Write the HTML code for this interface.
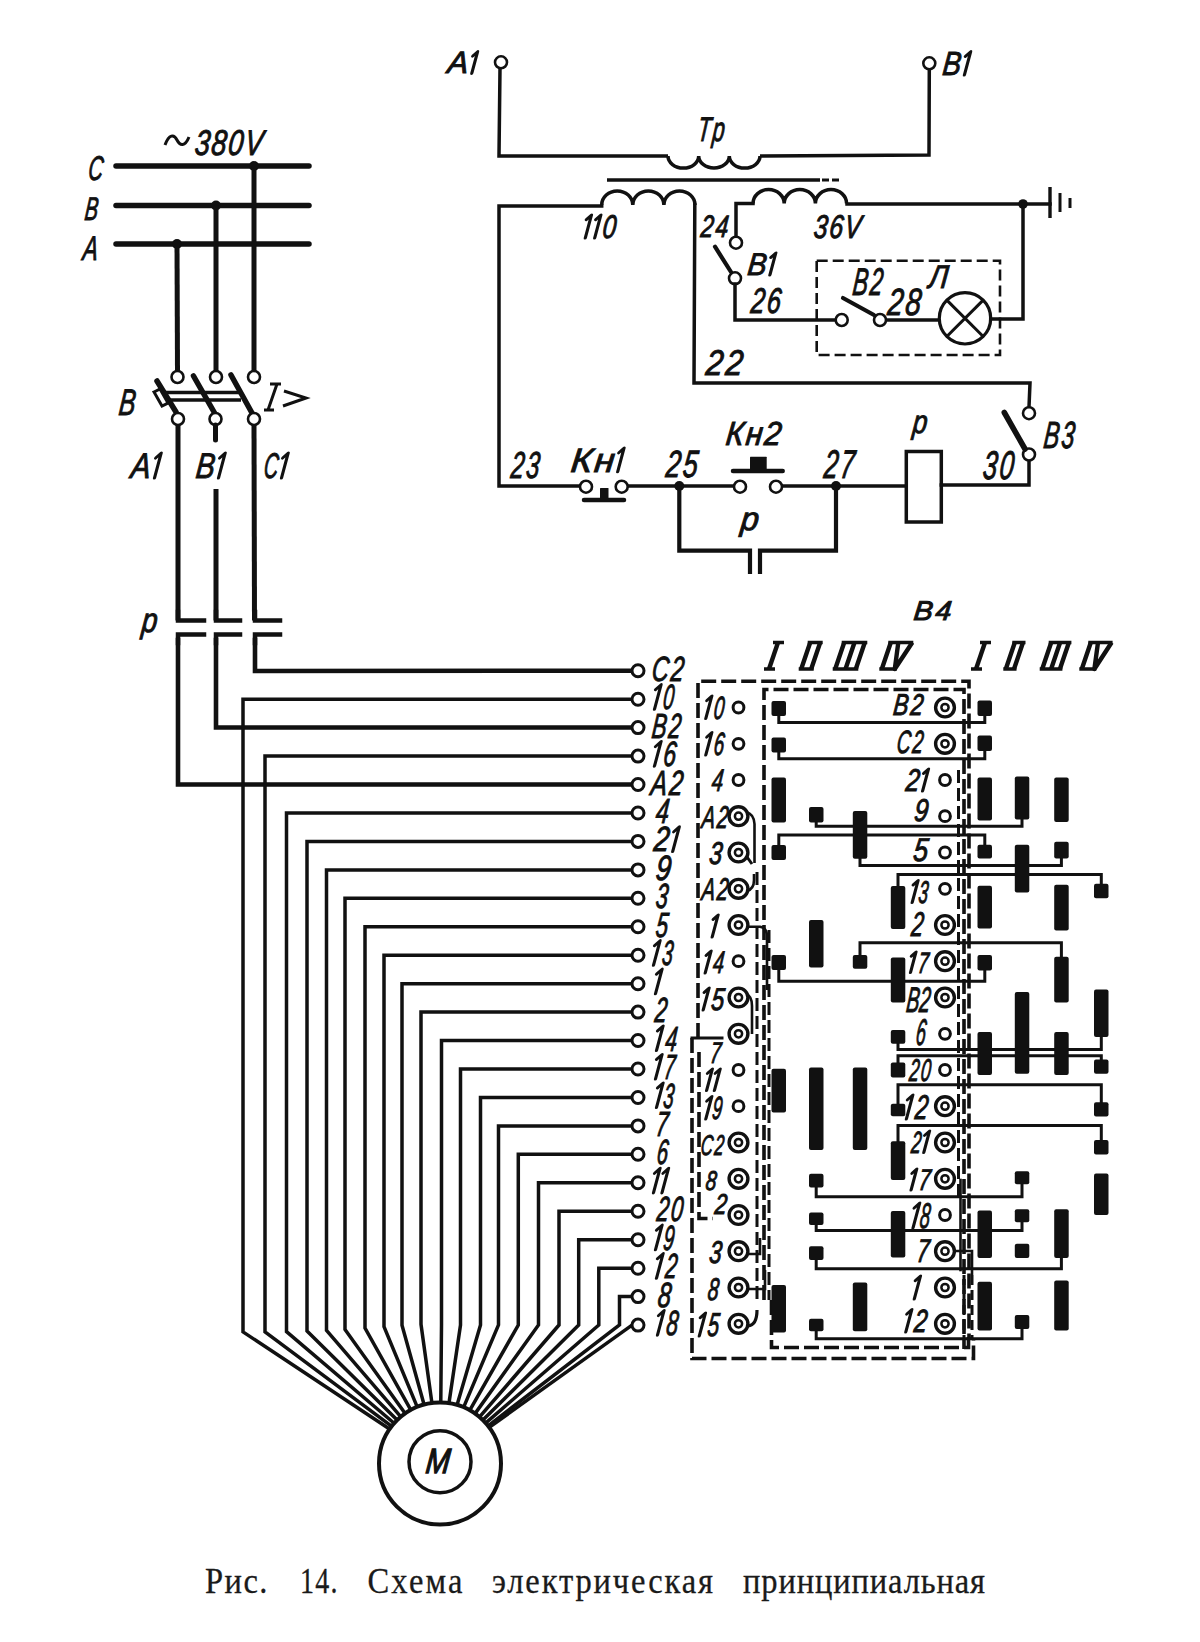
<!DOCTYPE html>
<html><head><meta charset="utf-8"><style>
html,body{margin:0;padding:0;background:#fff;}
body{width:1200px;height:1642px;overflow:hidden;}
svg{display:block;}
.t{font-family:"Liberation Sans",sans-serif;font-style:italic;fill:#111;stroke:#111;}
.cap{font-family:"Liberation Serif",serif;fill:#1a1a1a;stroke:#1a1a1a;stroke-width:0.3;}
</style></head><body>
<svg width="1200" height="1642" viewBox="0 0 1200 1642">
<line x1="116.0" y1="166.0" x2="309.0" y2="166.0" stroke="#111" stroke-width="5.5" stroke-linecap="round" />
<line x1="116.0" y1="205.5" x2="309.0" y2="205.5" stroke="#111" stroke-width="5.5" stroke-linecap="round" />
<line x1="116.0" y1="244.0" x2="309.0" y2="244.0" stroke="#111" stroke-width="5.5" stroke-linecap="round" />
<circle cx="254.0" cy="166.0" r="5.0" fill="#111"/>
<circle cx="216.0" cy="205.5" r="5.0" fill="#111"/>
<circle cx="177.0" cy="244.0" r="5.0" fill="#111"/>
<line x1="177.0" y1="244.0" x2="177.5" y2="371.0" stroke="#111" stroke-width="5" stroke-linecap="butt" />
<line x1="216.0" y1="205.5" x2="216.0" y2="371.0" stroke="#111" stroke-width="5" stroke-linecap="butt" />
<line x1="254.0" y1="166.0" x2="254.0" y2="371.0" stroke="#111" stroke-width="5" stroke-linecap="butt" />
<circle cx="177.5" cy="377.0" r="6.0" fill="#fff" stroke="#111" stroke-width="2.6"/>
<circle cx="216.0" cy="377.0" r="6.0" fill="#fff" stroke="#111" stroke-width="2.6"/>
<circle cx="254.0" cy="377.0" r="6.0" fill="#fff" stroke="#111" stroke-width="2.6"/>
<line x1="157.0" y1="381.0" x2="176.0" y2="412.0" stroke="#111" stroke-width="5.5" stroke-linecap="round" />
<line x1="193.5" y1="376.0" x2="214.6" y2="413.0" stroke="#111" stroke-width="5.5" stroke-linecap="round" />
<line x1="231.0" y1="375.0" x2="252.0" y2="413.0" stroke="#111" stroke-width="5.5" stroke-linecap="round" />
<line x1="162.0" y1="392.5" x2="241.0" y2="392.5" stroke="#111" stroke-width="3.3" stroke-linecap="butt" />
<line x1="162.0" y1="400.0" x2="241.0" y2="400.0" stroke="#111" stroke-width="3.3" stroke-linecap="butt" />
<path d="M154 392 L160 389 L168 403 L162 406 Z" fill="#fff" stroke="#111" stroke-width="3"/>
<circle cx="178.0" cy="419.0" r="6.0" fill="#fff" stroke="#111" stroke-width="2.6"/>
<circle cx="215.5" cy="419.0" r="6.0" fill="#fff" stroke="#111" stroke-width="2.6"/>
<circle cx="254.0" cy="419.0" r="6.0" fill="#fff" stroke="#111" stroke-width="2.6"/>
<line x1="178.0" y1="425.0" x2="178.0" y2="620.5" stroke="#111" stroke-width="5" stroke-linecap="butt" />
<line x1="215.5" y1="425.0" x2="215.5" y2="440.0" stroke="#111" stroke-width="5" stroke-linecap="round" />
<line x1="216.0" y1="489.0" x2="216.0" y2="620.5" stroke="#111" stroke-width="5" stroke-linecap="butt" />
<line x1="254.0" y1="425.0" x2="254.5" y2="620.5" stroke="#111" stroke-width="5" stroke-linecap="butt" />
<path d="M178.0 612.0 L178.0 620.5 L204.0 620.5" fill="none" stroke="#111" stroke-width="4.5" stroke-linejoin="miter" stroke-linecap="square" />
<path d="M204.0 634.5 L178.0 634.5 L178.0 643.0" fill="none" stroke="#111" stroke-width="4.5" stroke-linejoin="miter" stroke-linecap="square" />
<path d="M216.0 612.0 L216.0 620.5 L240.0 620.5" fill="none" stroke="#111" stroke-width="4.5" stroke-linejoin="miter" stroke-linecap="square" />
<path d="M240.0 634.5 L216.0 634.5 L216.0 643.0" fill="none" stroke="#111" stroke-width="4.5" stroke-linejoin="miter" stroke-linecap="square" />
<path d="M255.0 612.0 L255.0 620.5 L280.0 620.5" fill="none" stroke="#111" stroke-width="4.5" stroke-linejoin="miter" stroke-linecap="square" />
<path d="M280.0 634.5 L255.0 634.5 L255.0 643.0" fill="none" stroke="#111" stroke-width="4.5" stroke-linejoin="miter" stroke-linecap="square" />
<path d="M178.0 640.0 L178.0 784.5 L632.0 784.5" fill="none" stroke="#111" stroke-width="4.6" stroke-linejoin="miter" stroke-linecap="square" />
<path d="M216.0 640.0 L216.0 727.5 L632.0 727.5" fill="none" stroke="#111" stroke-width="4.6" stroke-linejoin="miter" stroke-linecap="square" />
<path d="M255.0 640.0 L255.0 671.0 L632.0 670.7" fill="none" stroke="#111" stroke-width="4.6" stroke-linejoin="miter" stroke-linecap="square" />
<path d="M165 145 C169 134 174 134 177 140 C180 146 185 147 189 137" fill="none" stroke="#111" stroke-width="3"/>
<text x="0" y="0" transform="translate(194.0,155.0) skewX(-6) scale(0.758,1)" font-size="35.7" class="t" stroke-width="1.0">3</text>
<text x="0" y="0" transform="translate(210.6,155.0) skewX(-6) scale(0.758,1)" font-size="35.7" class="t" stroke-width="1.0">8</text>
<text x="0" y="0" transform="translate(227.3,155.0) skewX(-6) scale(0.758,1)" font-size="35.7" class="t" stroke-width="1.0">0</text>
<text x="0" y="0" transform="translate(243.9,155.0) skewX(-6) scale(0.758,1)" font-size="35.7" class="t" stroke-width="1.0">V</text>
<text x="0" y="0" transform="translate(87.5,180.0) skewX(-6)" font-size="34.3" textLength="14.6" lengthAdjust="spacingAndGlyphs" class="t" stroke-width="1.0">С</text>
<text x="0" y="0" transform="translate(84.0,220.0) skewX(-6)" font-size="32.9" textLength="13.2" lengthAdjust="spacingAndGlyphs" class="t" stroke-width="1.0">В</text>
<text x="0" y="0" transform="translate(82.0,260.0) skewX(-6)" font-size="34.3" textLength="15.1" lengthAdjust="spacingAndGlyphs" class="t" stroke-width="1.0">А</text>
<text x="0" y="0" transform="translate(118.0,415.0) skewX(-6)" font-size="37.1" textLength="16.5" lengthAdjust="spacingAndGlyphs" class="t" stroke-width="1.0">В</text>
<path d="M270 384 L281 384 M264 410 L274 410 M277 384 L268 410 M284 391 L306 398 L283 406" fill="none" stroke="#111" stroke-width="3"/>
<text x="0" y="0" transform="translate(130.0,478.0) skewX(-6) scale(0.832,1)" font-size="35.7" class="t" stroke-width="1.0">А</text>
<path transform="translate(154.5,478.0) skewX(-15)" d="M0 0 L0 -25.0 L-4.2 -20.0" fill="none" stroke="#111" stroke-width="3.2" stroke-linecap="round" stroke-linejoin="round"/>
<text x="0" y="0" transform="translate(195.0,478.0) skewX(-6) scale(0.793,1)" font-size="35.7" class="t" stroke-width="1.0">В</text>
<path transform="translate(218.5,478.0) skewX(-15)" d="M0 0 L0 -25.0 L-4.2 -20.0" fill="none" stroke="#111" stroke-width="3.2" stroke-linecap="round" stroke-linejoin="round"/>
<text x="0" y="0" transform="translate(263.0,478.0) skewX(-6) scale(0.552,1)" font-size="35.7" class="t" stroke-width="1.0">С</text>
<path transform="translate(281.5,478.0) skewX(-15)" d="M0 0 L0 -25.0 L-4.2 -20.0" fill="none" stroke="#111" stroke-width="3.2" stroke-linecap="round" stroke-linejoin="round"/>
<text x="0" y="0" transform="translate(141.0,632.0) skewX(-6)" font-size="34.6" textLength="15.5" lengthAdjust="spacingAndGlyphs" class="t" stroke-width="1.0">р</text>
<path d="M632.0 699.2 L243.0 699.2 L243.0 1331.9 L387.7 1427.7" fill="none" stroke="#111" stroke-width="3.5" stroke-linejoin="miter" stroke-linecap="square" />
<path d="M632.0 756.1 L265.0 756.1 L265.0 1331.8 L389.7 1424.8" fill="none" stroke="#111" stroke-width="3.5" stroke-linejoin="miter" stroke-linecap="square" />
<path d="M632.0 813.0 L286.5 813.0 L286.5 1331.6 L392.2 1421.6" fill="none" stroke="#111" stroke-width="3.5" stroke-linejoin="miter" stroke-linecap="square" />
<path d="M632.0 841.4 L307.0 841.4 L307.0 1331.1 L395.4 1418.3" fill="none" stroke="#111" stroke-width="3.5" stroke-linejoin="miter" stroke-linecap="square" />
<path d="M632.0 869.9 L326.5 869.9 L326.5 1330.4 L399.1 1414.7" fill="none" stroke="#111" stroke-width="3.5" stroke-linejoin="miter" stroke-linecap="square" />
<path d="M632.0 898.3 L345.0 898.3 L345.0 1329.4 L403.6 1411.3" fill="none" stroke="#111" stroke-width="3.5" stroke-linejoin="miter" stroke-linecap="square" />
<path d="M632.0 926.8 L365.0 926.8 L365.0 1328.0 L409.5 1407.5" fill="none" stroke="#111" stroke-width="3.5" stroke-linejoin="miter" stroke-linecap="square" />
<path d="M632.0 955.2 L384.0 955.2 L384.0 1326.6 L416.1 1404.3" fill="none" stroke="#111" stroke-width="3.5" stroke-linejoin="miter" stroke-linecap="square" />
<path d="M632.0 983.7 L402.0 983.7 L402.0 1325.3 L423.3 1401.8" fill="none" stroke="#111" stroke-width="3.5" stroke-linejoin="miter" stroke-linecap="square" />
<path d="M632.0 1012.1 L421.0 1012.1 L421.0 1324.3 L431.5 1400.1" fill="none" stroke="#111" stroke-width="3.5" stroke-linejoin="miter" stroke-linecap="square" />
<path d="M632.0 1040.5 L441.5 1040.5 L441.5 1325.0 L440.8 1399.5" fill="none" stroke="#111" stroke-width="3.5" stroke-linejoin="miter" stroke-linecap="square" />
<path d="M632.0 1069.0 L460.5 1069.0 L460.5 1325.0 L449.4 1400.2" fill="none" stroke="#111" stroke-width="3.5" stroke-linejoin="miter" stroke-linecap="square" />
<path d="M632.0 1097.5 L480.5 1097.5 L480.5 1325.0 L457.9 1402.0" fill="none" stroke="#111" stroke-width="3.5" stroke-linejoin="miter" stroke-linecap="square" />
<path d="M632.0 1125.9 L498.5 1125.9 L498.5 1325.0 L464.8 1404.5" fill="none" stroke="#111" stroke-width="3.5" stroke-linejoin="miter" stroke-linecap="square" />
<path d="M632.0 1154.3 L518.3 1154.3 L518.3 1325.0 L471.3 1407.7" fill="none" stroke="#111" stroke-width="3.5" stroke-linejoin="miter" stroke-linecap="square" />
<path d="M632.0 1182.8 L538.5 1182.8 L538.5 1325.0 L476.8 1411.2" fill="none" stroke="#111" stroke-width="3.5" stroke-linejoin="miter" stroke-linecap="square" />
<path d="M632.0 1211.2 L559.0 1211.2 L559.0 1325.0 L481.4 1414.8" fill="none" stroke="#111" stroke-width="3.5" stroke-linejoin="miter" stroke-linecap="square" />
<path d="M632.0 1239.7 L578.7 1239.7 L578.7 1325.0 L484.9 1418.1" fill="none" stroke="#111" stroke-width="3.5" stroke-linejoin="miter" stroke-linecap="square" />
<path d="M632.0 1268.2 L598.8 1268.2 L598.8 1325.0 L487.8 1421.2" fill="none" stroke="#111" stroke-width="3.5" stroke-linejoin="miter" stroke-linecap="square" />
<path d="M632.0 1296.6 L619.5 1296.6 L619.5 1325.0 L490.2 1424.2" fill="none" stroke="#111" stroke-width="3.5" stroke-linejoin="miter" stroke-linecap="square" />
<path d="M632.0 1325.1 L491.4 1425.8" fill="none" stroke="#111" stroke-width="3.5" stroke-linejoin="miter" stroke-linecap="square" />
<circle cx="638.0" cy="670.7" r="6.0" fill="#fff" stroke="#111" stroke-width="3.0"/>
<text x="0" y="0" transform="translate(651.0,680.7) skewX(-6) scale(0.666,1)" font-size="35.0" class="t" stroke-width="1.0">С</text>
<text x="0" y="0" transform="translate(670.1,680.7) skewX(-6) scale(0.666,1)" font-size="35.0" class="t" stroke-width="1.0">2</text>
<circle cx="638.0" cy="699.2" r="6.0" fill="#fff" stroke="#111" stroke-width="3.0"/>
<path transform="translate(654.5,709.2) skewX(-15)" d="M0 0 L0 -24.5 L-4.2 -19.6" fill="none" stroke="#111" stroke-width="3.2" stroke-linecap="round" stroke-linejoin="round"/>
<text x="0" y="0" transform="translate(662.3,709.2) skewX(-6) scale(0.553,1)" font-size="35.0" class="t" stroke-width="1.0">0</text>
<circle cx="638.0" cy="727.6" r="6.0" fill="#fff" stroke="#111" stroke-width="3.0"/>
<text x="0" y="0" transform="translate(651.0,737.6) skewX(-6) scale(0.631,1)" font-size="35.0" class="t" stroke-width="1.0">В</text>
<text x="0" y="0" transform="translate(667.8,737.6) skewX(-6) scale(0.631,1)" font-size="35.0" class="t" stroke-width="1.0">2</text>
<circle cx="638.0" cy="756.1" r="6.0" fill="#fff" stroke="#111" stroke-width="3.0"/>
<path transform="translate(654.5,766.1) skewX(-15)" d="M0 0 L0 -24.5 L-4.2 -19.6" fill="none" stroke="#111" stroke-width="3.2" stroke-linecap="round" stroke-linejoin="round"/>
<text x="0" y="0" transform="translate(662.4,766.1) skewX(-6) scale(0.649,1)" font-size="35.0" class="t" stroke-width="1.0">6</text>
<circle cx="638.0" cy="784.5" r="6.0" fill="#fff" stroke="#111" stroke-width="3.0"/>
<text x="0" y="0" transform="translate(650.0,794.5) skewX(-6) scale(0.696,1)" font-size="35.0" class="t" stroke-width="1.0">А</text>
<text x="0" y="0" transform="translate(668.5,794.5) skewX(-6) scale(0.696,1)" font-size="35.0" class="t" stroke-width="1.0">2</text>
<circle cx="638.0" cy="813.0" r="6.0" fill="#fff" stroke="#111" stroke-width="3.0"/>
<text x="0" y="0" transform="translate(655.0,823.0) skewX(-6)" font-size="35.0" textLength="13.1" lengthAdjust="spacingAndGlyphs" class="t" stroke-width="1.0">4</text>
<circle cx="638.0" cy="841.4" r="6.0" fill="#fff" stroke="#111" stroke-width="3.0"/>
<text x="0" y="0" transform="translate(653.0,851.4) skewX(-6) scale(0.792,1)" font-size="35.0" class="t" stroke-width="1.0">2</text>
<path transform="translate(672.7,851.4) skewX(-15)" d="M0 0 L0 -24.5 L-4.2 -19.6" fill="none" stroke="#111" stroke-width="3.2" stroke-linecap="round" stroke-linejoin="round"/>
<circle cx="638.0" cy="869.9" r="6.0" fill="#fff" stroke="#111" stroke-width="3.0"/>
<text x="0" y="0" transform="translate(655.0,879.9) skewX(-6)" font-size="35.0" textLength="15.1" lengthAdjust="spacingAndGlyphs" class="t" stroke-width="1.0">9</text>
<circle cx="638.0" cy="898.3" r="6.0" fill="#fff" stroke="#111" stroke-width="3.0"/>
<text x="0" y="0" transform="translate(655.0,908.3) skewX(-6)" font-size="35.0" textLength="12.1" lengthAdjust="spacingAndGlyphs" class="t" stroke-width="1.0">3</text>
<circle cx="638.0" cy="926.8" r="6.0" fill="#fff" stroke="#111" stroke-width="3.0"/>
<text x="0" y="0" transform="translate(655.0,936.8) skewX(-6)" font-size="35.0" textLength="12.1" lengthAdjust="spacingAndGlyphs" class="t" stroke-width="1.0">5</text>
<circle cx="638.0" cy="955.2" r="6.0" fill="#fff" stroke="#111" stroke-width="3.0"/>
<path transform="translate(653.5,965.2) skewX(-15)" d="M0 0 L0 -24.5 L-4.2 -19.6" fill="none" stroke="#111" stroke-width="3.2" stroke-linecap="round" stroke-linejoin="round"/>
<text x="0" y="0" transform="translate(661.3,965.2) skewX(-6) scale(0.553,1)" font-size="35.0" class="t" stroke-width="1.0">3</text>
<circle cx="638.0" cy="983.7" r="6.0" fill="#fff" stroke="#111" stroke-width="3.0"/>
<path transform="translate(655.5,993.7) skewX(-15)" d="M0 0 L0 -24.5 L-4.2 -19.6" fill="none" stroke="#111" stroke-width="3.2" stroke-linecap="round" stroke-linejoin="round"/>
<circle cx="638.0" cy="1012.1" r="6.0" fill="#fff" stroke="#111" stroke-width="3.0"/>
<text x="0" y="0" transform="translate(654.0,1022.1) skewX(-6)" font-size="35.0" textLength="12.1" lengthAdjust="spacingAndGlyphs" class="t" stroke-width="1.0">2</text>
<circle cx="638.0" cy="1040.5" r="6.0" fill="#fff" stroke="#111" stroke-width="3.0"/>
<path transform="translate(656.5,1050.5) skewX(-15)" d="M0 0 L0 -24.5 L-4.2 -19.6" fill="none" stroke="#111" stroke-width="3.2" stroke-linecap="round" stroke-linejoin="round"/>
<text x="0" y="0" transform="translate(664.4,1050.5) skewX(-6) scale(0.601,1)" font-size="35.0" class="t" stroke-width="1.0">4</text>
<circle cx="638.0" cy="1069.0" r="6.0" fill="#fff" stroke="#111" stroke-width="3.0"/>
<path transform="translate(655.5,1079.0) skewX(-15)" d="M0 0 L0 -24.5 L-4.2 -19.6" fill="none" stroke="#111" stroke-width="3.2" stroke-linecap="round" stroke-linejoin="round"/>
<text x="0" y="0" transform="translate(663.3,1079.0) skewX(-6) scale(0.553,1)" font-size="35.0" class="t" stroke-width="1.0">7</text>
<circle cx="638.0" cy="1097.5" r="6.0" fill="#fff" stroke="#111" stroke-width="3.0"/>
<path transform="translate(656.5,1107.5) skewX(-15)" d="M0 0 L0 -24.5 L-4.2 -19.6" fill="none" stroke="#111" stroke-width="3.2" stroke-linecap="round" stroke-linejoin="round"/>
<text x="0" y="0" transform="translate(662.6,1107.5) skewX(-6) scale(0.537,1)" font-size="35.0" class="t" stroke-width="1.0">3</text>
<circle cx="638.0" cy="1125.9" r="6.0" fill="#fff" stroke="#111" stroke-width="3.0"/>
<text x="0" y="0" transform="translate(655.0,1135.9) skewX(-6)" font-size="35.0" textLength="12.1" lengthAdjust="spacingAndGlyphs" class="t" stroke-width="1.0">7</text>
<circle cx="638.0" cy="1154.3" r="6.0" fill="#fff" stroke="#111" stroke-width="3.0"/>
<text x="0" y="0" transform="translate(656.0,1164.3) skewX(-6)" font-size="35.0" textLength="11.1" lengthAdjust="spacingAndGlyphs" class="t" stroke-width="1.0">6</text>
<circle cx="638.0" cy="1182.8" r="6.0" fill="#fff" stroke="#111" stroke-width="3.0"/>
<path transform="translate(653.5,1192.8) skewX(-15)" d="M0 0 L0 -24.5 L-4.2 -19.6" fill="none" stroke="#111" stroke-width="3.2" stroke-linecap="round" stroke-linejoin="round"/>
<path transform="translate(662.0,1192.8) skewX(-15)" d="M0 0 L0 -24.5 L-4.2 -19.6" fill="none" stroke="#111" stroke-width="3.2" stroke-linecap="round" stroke-linejoin="round"/>
<circle cx="638.0" cy="1211.2" r="6.0" fill="#fff" stroke="#111" stroke-width="3.0"/>
<text x="0" y="0" transform="translate(656.0,1221.2) skewX(-6) scale(0.623,1)" font-size="35.0" class="t" stroke-width="1.0">2</text>
<text x="0" y="0" transform="translate(669.9,1221.2) skewX(-6) scale(0.623,1)" font-size="35.0" class="t" stroke-width="1.0">0</text>
<circle cx="638.0" cy="1239.7" r="6.0" fill="#fff" stroke="#111" stroke-width="3.0"/>
<path transform="translate(655.5,1249.7) skewX(-15)" d="M0 0 L0 -24.5 L-4.2 -19.6" fill="none" stroke="#111" stroke-width="3.2" stroke-linecap="round" stroke-linejoin="round"/>
<text x="0" y="0" transform="translate(662.4,1249.7) skewX(-6) scale(0.550,1)" font-size="35.0" class="t" stroke-width="1.0">9</text>
<circle cx="638.0" cy="1268.2" r="6.0" fill="#fff" stroke="#111" stroke-width="3.0"/>
<path transform="translate(656.5,1278.2) skewX(-15)" d="M0 0 L0 -24.5 L-4.2 -19.6" fill="none" stroke="#111" stroke-width="3.2" stroke-linecap="round" stroke-linejoin="round"/>
<text x="0" y="0" transform="translate(664.4,1278.2) skewX(-6) scale(0.601,1)" font-size="35.0" class="t" stroke-width="1.0">2</text>
<circle cx="638.0" cy="1296.6" r="6.0" fill="#fff" stroke="#111" stroke-width="3.0"/>
<text x="0" y="0" transform="translate(657.0,1306.6) skewX(-6)" font-size="35.0" textLength="13.1" lengthAdjust="spacingAndGlyphs" class="t" stroke-width="1.0">8</text>
<circle cx="638.0" cy="1325.1" r="6.0" fill="#fff" stroke="#111" stroke-width="3.0"/>
<path transform="translate(657.5,1335.1) skewX(-15)" d="M0 0 L0 -24.5 L-4.2 -19.6" fill="none" stroke="#111" stroke-width="3.2" stroke-linecap="round" stroke-linejoin="round"/>
<text x="0" y="0" transform="translate(665.4,1335.1) skewX(-6) scale(0.601,1)" font-size="35.0" class="t" stroke-width="1.0">8</text>
<circle cx="440.0" cy="1463.5" r="61.0" fill="#fff" stroke="#111" stroke-width="4"/>
<circle cx="440.0" cy="1461.7" r="31.0" fill="#fff" stroke="#111" stroke-width="3.5"/>
<text x="0" y="0" transform="translate(425.0,1473.3) skewX(-6)" font-size="35.1" textLength="24.0" lengthAdjust="spacingAndGlyphs" class="t" stroke-width="1.4">М</text>
<circle cx="501.0" cy="62.3" r="6.0" fill="#fff" stroke="#111" stroke-width="2.6"/>
<text x="0" y="0" transform="translate(446.7,73.3) skewX(-6) scale(1.010,1)" font-size="30.9" class="t" stroke-width="1.0">А</text>
<path transform="translate(471.8,73.3) skewX(-15)" d="M0 0 L0 -21.6 L-3.7 -17.3" fill="none" stroke="#111" stroke-width="3.2" stroke-linecap="round" stroke-linejoin="round"/>
<circle cx="929.3" cy="63.3" r="6.0" fill="#fff" stroke="#111" stroke-width="2.6"/>
<text x="0" y="0" transform="translate(941.7,75.0) skewX(-6) scale(0.829,1)" font-size="33.3" class="t" stroke-width="1.0">В</text>
<path transform="translate(964.4,75.0) skewX(-15)" d="M0 0 L0 -23.3 L-4.0 -18.6" fill="none" stroke="#111" stroke-width="3.2" stroke-linecap="round" stroke-linejoin="round"/>
<path d="M500 68 L499 156 L668 156" fill="none" stroke="#111" stroke-width="3.5"/>
<path d="M668 156 A15.3 12 0 0 0 698.7 156 A15.3 12 0 0 0 729.3 156 A15.3 12 0 0 0 760.0 156" fill="none" stroke="#111" stroke-width="3.5"/>
<path d="M760 156 L929 155 L929.3 69" fill="none" stroke="#111" stroke-width="3.5"/>
<text x="0" y="0" transform="translate(696.7,141.0) skewX(-6) scale(0.630,1)" font-size="34.3" class="t" stroke-width="1.0">Т</text>
<text x="0" y="0" transform="translate(711.8,141.0) skewX(-6) scale(0.630,1)" font-size="34.3" class="t" stroke-width="1.0">р</text>
<line x1="607.0" y1="180.0" x2="820.0" y2="180.0" stroke="#111" stroke-width="3.5" stroke-linecap="butt" />
<path d="M822.0 180.0 L840.0 180.0" fill="none" stroke="#111" stroke-width="3.2" stroke-dasharray="7 3"/>
<path d="M601.7 205 A15.5 14 0 0 1 632.8 205 A15.5 14 0 0 1 663.9 205 A15.5 14 0 0 1 695.0 205" fill="none" stroke="#111" stroke-width="3.5"/>
<path d="M601.7 206.0 L499.0 206.0 L499.0 486.0 L580.0 486.0" fill="none" stroke="#111" stroke-width="3.5" stroke-linejoin="miter" stroke-linecap="square" />
<path d="M694.8 205.0 L694.0 383.0 L1030.0 383.0 L1029.0 407.0" fill="none" stroke="#111" stroke-width="3.5" stroke-linejoin="miter" stroke-linecap="square" />
<path transform="translate(585.3,238.0) skewX(-15)" d="M0 0 L0 -23.0 L-3.9 -18.4" fill="none" stroke="#111" stroke-width="3.2" stroke-linecap="round" stroke-linejoin="round"/>
<path transform="translate(594.7,238.0) skewX(-15)" d="M0 0 L0 -23.0 L-3.9 -18.4" fill="none" stroke="#111" stroke-width="3.2" stroke-linecap="round" stroke-linejoin="round"/>
<text x="0" y="0" transform="translate(601.8,238.0) skewX(-6) scale(0.735,1)" font-size="32.9" class="t" stroke-width="1.0">0</text>
<path d="M753 203.5 A15.6 14 0 0 1 784.2 203.5 A15.6 14 0 0 1 815.4 203.5 A15.6 14 0 0 1 846.6 203.5" fill="none" stroke="#111" stroke-width="3.5"/>
<path d="M753.0 203.5 L736.0 203.5 L736.0 236.5" fill="none" stroke="#111" stroke-width="3.5" stroke-linejoin="miter" stroke-linecap="square" />
<circle cx="736.0" cy="242.7" r="6.0" fill="#fff" stroke="#111" stroke-width="2.6"/>
<text x="0" y="0" transform="translate(700.0,236.7) skewX(-6) scale(0.739,1)" font-size="31.0" class="t" stroke-width="1.0">2</text>
<text x="0" y="0" transform="translate(714.7,236.7) skewX(-6) scale(0.739,1)" font-size="31.0" class="t" stroke-width="1.0">4</text>
<text x="0" y="0" transform="translate(813.0,238.0) skewX(-6) scale(0.752,1)" font-size="32.9" class="t" stroke-width="1.0">3</text>
<text x="0" y="0" transform="translate(828.4,238.0) skewX(-6) scale(0.752,1)" font-size="32.9" class="t" stroke-width="1.0">6</text>
<text x="0" y="0" transform="translate(843.8,238.0) skewX(-6) scale(0.752,1)" font-size="32.9" class="t" stroke-width="1.0">V</text>
<line x1="715.0" y1="246.7" x2="731.0" y2="272.0" stroke="#111" stroke-width="4.2" stroke-linecap="round" />
<circle cx="735.0" cy="278.3" r="6.0" fill="#fff" stroke="#111" stroke-width="2.6"/>
<text x="0" y="0" transform="translate(746.7,275.0) skewX(-6) scale(0.907,1)" font-size="31.4" class="t" stroke-width="1.0">В</text>
<path transform="translate(769.9,275.0) skewX(-15)" d="M0 0 L0 -22.0 L-3.7 -17.6" fill="none" stroke="#111" stroke-width="3.2" stroke-linecap="round" stroke-linejoin="round"/>
<text x="0" y="0" transform="translate(750.0,313.0) skewX(-6) scale(0.702,1)" font-size="35.7" class="t" stroke-width="1.0">2</text>
<text x="0" y="0" transform="translate(766.0,313.0) skewX(-6) scale(0.702,1)" font-size="35.7" class="t" stroke-width="1.0">6</text>
<path d="M735.0 284.0 L735.0 320.0 L836.0 320.0" fill="none" stroke="#111" stroke-width="3.5" stroke-linejoin="miter" stroke-linecap="square" />
<path d="M847.0 204.0 L1050.0 204.0" fill="none" stroke="#111" stroke-width="3.5" stroke-linejoin="miter" stroke-linecap="square" />
<circle cx="1023.0" cy="204.0" r="4.8" fill="#111"/>
<path d="M1023.0 204.0 L1023.0 319.0 L990.7 319.0" fill="none" stroke="#111" stroke-width="3.5" stroke-linejoin="miter" stroke-linecap="square" />
<line x1="1050.0" y1="187.0" x2="1050.0" y2="218.0" stroke="#111" stroke-width="3.4" stroke-linecap="butt" />
<line x1="1060.0" y1="193.0" x2="1060.0" y2="212.0" stroke="#111" stroke-width="3" stroke-linecap="butt" />
<line x1="1070.0" y1="198.0" x2="1070.0" y2="208.0" stroke="#111" stroke-width="3" stroke-linecap="butt" />
<path d="M816.7 260.7 L1000.0 260.7 L1000.0 355.0 L816.7 355.0 L816.7 260.7" fill="none" stroke="#111" stroke-width="2.6" stroke-dasharray="11 5"/>
<circle cx="841.7" cy="320.0" r="6.0" fill="#fff" stroke="#111" stroke-width="2.6"/>
<circle cx="880.0" cy="320.0" r="6.0" fill="#fff" stroke="#111" stroke-width="2.6"/>
<line x1="843.0" y1="298.0" x2="874.0" y2="315.0" stroke="#111" stroke-width="4.2" stroke-linecap="round" />
<line x1="886.0" y1="320.0" x2="939.3" y2="320.0" stroke="#111" stroke-width="3.5" stroke-linecap="butt" />
<circle cx="965.0" cy="318.3" r="25.7" fill="none" stroke="#111" stroke-width="3.2"/>
<line x1="946.8" y1="300.1" x2="983.2" y2="336.5" stroke="#111" stroke-width="3" stroke-linecap="butt" />
<line x1="946.8" y1="336.5" x2="983.2" y2="300.1" stroke="#111" stroke-width="3" stroke-linecap="butt" />
<text x="0" y="0" transform="translate(851.7,295.0) skewX(-6) scale(0.593,1)" font-size="38.6" class="t" stroke-width="1.0">В</text>
<text x="0" y="0" transform="translate(869.0,295.0) skewX(-6) scale(0.593,1)" font-size="38.6" class="t" stroke-width="1.0">2</text>
<text x="0" y="0" transform="translate(886.7,315.0) skewX(-6) scale(0.732,1)" font-size="38.1" class="t" stroke-width="1.0">2</text>
<text x="0" y="0" transform="translate(904.6,315.0) skewX(-6) scale(0.732,1)" font-size="38.1" class="t" stroke-width="1.0">8</text>
<text x="0" y="0" transform="translate(928.0,288.0) skewX(-6)" font-size="32.9" textLength="19.2" lengthAdjust="spacingAndGlyphs" class="t" stroke-width="1.0">Л</text>
<text x="0" y="0" transform="translate(705.0,375.0) skewX(-6) scale(0.866,1)" font-size="35.7" class="t" stroke-width="1.0">2</text>
<text x="0" y="0" transform="translate(724.8,375.0) skewX(-6) scale(0.866,1)" font-size="35.7" class="t" stroke-width="1.0">2</text>
<circle cx="586.0" cy="486.7" r="6.0" fill="#fff" stroke="#111" stroke-width="2.6"/>
<circle cx="621.7" cy="486.7" r="6.0" fill="#fff" stroke="#111" stroke-width="2.6"/>
<line x1="584.0" y1="500.0" x2="624.0" y2="500.0" stroke="#111" stroke-width="4.5" stroke-linecap="round" />
<rect x="600.0" y="488.0" width="8.5" height="12.0" rx="0.5" fill="#111"/>
<text x="0" y="0" transform="translate(510.0,478.0) skewX(-6) scale(0.635,1)" font-size="37.6" class="t" stroke-width="1.0">2</text>
<text x="0" y="0" transform="translate(525.3,478.0) skewX(-6) scale(0.635,1)" font-size="37.6" class="t" stroke-width="1.0">3</text>
<text x="0" y="0" transform="translate(570.0,471.7) skewX(-6) scale(1.077,1)" font-size="33.9" class="t" stroke-width="1.0">К</text>
<text x="0" y="0" transform="translate(593.4,471.7) skewX(-6) scale(1.077,1)" font-size="33.9" class="t" stroke-width="1.0">н</text>
<path transform="translate(617.7,471.7) skewX(-15)" d="M0 0 L0 -23.7 L-4.0 -19.0" fill="none" stroke="#111" stroke-width="3.2" stroke-linecap="round" stroke-linejoin="round"/>
<line x1="627.7" y1="486.0" x2="734.0" y2="486.0" stroke="#111" stroke-width="3.5" stroke-linecap="butt" />
<circle cx="679.3" cy="486.0" r="5.0" fill="#111"/>
<circle cx="740.0" cy="486.7" r="6.0" fill="#fff" stroke="#111" stroke-width="2.6"/>
<circle cx="776.0" cy="486.7" r="6.0" fill="#fff" stroke="#111" stroke-width="2.6"/>
<line x1="733.0" y1="471.0" x2="782.7" y2="471.0" stroke="#111" stroke-width="4.5" stroke-linecap="round" />
<rect x="750.0" y="456.7" width="16.7" height="14.3" rx="0.5" fill="#111"/>
<text x="0" y="0" transform="translate(665.0,476.7) skewX(-6) scale(0.697,1)" font-size="38.1" class="t" stroke-width="1.0">2</text>
<text x="0" y="0" transform="translate(682.0,476.7) skewX(-6) scale(0.697,1)" font-size="38.1" class="t" stroke-width="1.0">5</text>
<text x="0" y="0" transform="translate(725.0,445.0) skewX(-6) scale(0.914,1)" font-size="33.3" class="t" stroke-width="1.0">К</text>
<text x="0" y="0" transform="translate(744.9,445.0) skewX(-6) scale(0.914,1)" font-size="33.3" class="t" stroke-width="1.0">н</text>
<text x="0" y="0" transform="translate(763.6,445.0) skewX(-6) scale(0.914,1)" font-size="33.3" class="t" stroke-width="1.0">2</text>
<line x1="782.0" y1="486.0" x2="906.3" y2="486.0" stroke="#111" stroke-width="3.5" stroke-linecap="butt" />
<circle cx="836.0" cy="486.0" r="5.0" fill="#111"/>
<text x="0" y="0" transform="translate(823.0,478.0) skewX(-6) scale(0.634,1)" font-size="40.0" class="t" stroke-width="1.0">2</text>
<text x="0" y="0" transform="translate(839.2,478.0) skewX(-6) scale(0.634,1)" font-size="40.0" class="t" stroke-width="1.0">7</text>
<path d="M679.3 486.0 L679.3 550.7 L750.0 550.7 L750.0 572.0" fill="none" stroke="#111" stroke-width="4.2" stroke-linejoin="miter" stroke-linecap="square" />
<path d="M760.0 572.0 L760.0 550.7 L836.0 550.7 L836.0 486.0" fill="none" stroke="#111" stroke-width="4.2" stroke-linejoin="miter" stroke-linecap="square" />
<text x="0" y="0" transform="translate(740.0,530.0) skewX(-6)" font-size="32.7" textLength="18.0" lengthAdjust="spacingAndGlyphs" class="t" stroke-width="1.0">р</text>
<rect x="906.3" y="451.5" width="35.0" height="70.5" fill="none" stroke="#111" stroke-width="3.5"/>
<text x="0" y="0" transform="translate(912.0,433.0) skewX(-6)" font-size="32.7" textLength="14.5" lengthAdjust="spacingAndGlyphs" class="t" stroke-width="1.0">р</text>
<path d="M941.3 485.0 L1029.0 485.0 L1029.0 460.5" fill="none" stroke="#111" stroke-width="3.5" stroke-linejoin="miter" stroke-linecap="square" />
<circle cx="1029.0" cy="413.2" r="6.0" fill="#fff" stroke="#111" stroke-width="2.6"/>
<circle cx="1029.0" cy="454.5" r="6.0" fill="#fff" stroke="#111" stroke-width="2.6"/>
<line x1="1004.3" y1="412.5" x2="1025.0" y2="449.0" stroke="#111" stroke-width="5.6" stroke-linecap="round" />
<text x="0" y="0" transform="translate(1042.8,447.5) skewX(-6) scale(0.617,1)" font-size="37.9" class="t" stroke-width="1.0">В</text>
<text x="0" y="0" transform="translate(1060.5,447.5) skewX(-6) scale(0.617,1)" font-size="37.9" class="t" stroke-width="1.0">3</text>
<text x="0" y="0" transform="translate(982.0,479.0) skewX(-6) scale(0.641,1)" font-size="40.0" class="t" stroke-width="1.0">3</text>
<text x="0" y="0" transform="translate(998.4,479.0) skewX(-6) scale(0.641,1)" font-size="40.0" class="t" stroke-width="1.0">0</text>
<text x="0" y="0" transform="translate(913.0,620.0) skewX(-6) scale(1.057,1)" font-size="27.1" class="t" stroke-width="1.0">В</text>
<text x="0" y="0" transform="translate(934.8,620.0) skewX(-6) scale(1.057,1)" font-size="27.1" class="t" stroke-width="1.0">4</text>
<path d="M769.0 669 L778.0 642.5" fill="none" stroke="#111" stroke-width="4.4" stroke-linejoin="round"/>
<path d="M773.0 642.5 L784.0 642.5 M764.0 669 L775.0 669" fill="none" stroke="#111" stroke-width="3.4"/>
<path d="M801.2 669 L810.2 642.5 M811.2 669 L820.2 642.5" fill="none" stroke="#111" stroke-width="4.4" stroke-linejoin="round"/>
<path d="M807.7 642.5 L822.7 642.5 M798.7 669 L813.7 669" fill="none" stroke="#111" stroke-width="3.4"/>
<path d="M835.2 669 L844.2 642.5 M845.5 669 L854.5 642.5 M855.8 669 L864.8 642.5" fill="none" stroke="#111" stroke-width="4.4" stroke-linejoin="round"/>
<path d="M841.7 642.5 L867.3 642.5 M832.7 669 L858.3 669" fill="none" stroke="#111" stroke-width="3.4"/>
<path d="M881.8 669 L890.8 642.5 M898.3 642.5 L894.8 669 L912.3 642.5" fill="none" stroke="#111" stroke-width="4.4" stroke-linejoin="round"/>
<path d="M888.3 642.5 L913.3 642.5 M879.3 669 L896.8 669" fill="none" stroke="#111" stroke-width="3.4"/>
<path d="M976.0 669 L985.0 642.5" fill="none" stroke="#111" stroke-width="4.4" stroke-linejoin="round"/>
<path d="M980.0 642.5 L991.0 642.5 M971.0 669 L982.0 669" fill="none" stroke="#111" stroke-width="3.4"/>
<path d="M1005.8 669 L1014.8 642.5 M1014.0 669 L1023.0 642.5" fill="none" stroke="#111" stroke-width="4.4" stroke-linejoin="round"/>
<path d="M1012.3 642.5 L1025.5 642.5 M1003.3 669 L1016.5 669" fill="none" stroke="#111" stroke-width="3.4"/>
<path d="M1042.2 669 L1051.2 642.5 M1051.1 669 L1060.1 642.5 M1059.9 669 L1068.9 642.5" fill="none" stroke="#111" stroke-width="4.4" stroke-linejoin="round"/>
<path d="M1048.7 642.5 L1071.4 642.5 M1039.7 669 L1062.4 669" fill="none" stroke="#111" stroke-width="3.4"/>
<path d="M1081.8 669 L1090.8 642.5 M1098.0 642.5 L1094.4 669 L1111.6 642.5" fill="none" stroke="#111" stroke-width="4.4" stroke-linejoin="round"/>
<path d="M1088.3 642.5 L1112.6 642.5 M1079.3 669 L1096.3 669" fill="none" stroke="#111" stroke-width="3.4"/>
<path d="M698.0 1038.0 L698.0 681.2 L969.0 681.2 L969.0 1340.0" fill="none" stroke="#111" stroke-width="3.6" stroke-dasharray="15 5"/>
<path d="M692.0 1038.0 L692.0 1358.5 L973.5 1358.5 L973.5 1338.0" fill="none" stroke="#111" stroke-width="3.6" stroke-dasharray="15 5"/>
<path d="M692.0 1038.0 L722.0 1038.0" fill="none" stroke="#111" stroke-width="3" stroke-linejoin="miter" stroke-linecap="square" />
<path d="M699.0 1052.0 L699.0 1218.5 L713.0 1218.5" fill="none" stroke="#111" stroke-width="3.6" stroke-dasharray="15 5"/>
<path d="M764.0 1300.0 L764.0 689.5 L964.0 689.5 L964.0 1349.0" fill="none" stroke="#111" stroke-width="3.6" stroke-dasharray="15 5"/>
<path d="M771.5 1300.0 L771.5 1347.5 L968.5 1347.5 L968.5 1335.0" fill="none" stroke="#111" stroke-width="3.6" stroke-dasharray="15 5"/>
<path d="M757.0 872.0 L757.0 1300.0" fill="none" stroke="#111" stroke-width="3" stroke-dasharray="13 5"/>
<path d="M769.0 930.0 L769.0 1300.0" fill="none" stroke="#111" stroke-width="3" stroke-dasharray="13 5"/>
<path d="M958.5 770.0 L958.5 1200.0" fill="none" stroke="#111" stroke-width="3" stroke-dasharray="13 5"/>
<path d="M960.5 1180.0 L960.5 1270.0" fill="none" stroke="#111" stroke-width="2.6" stroke-linejoin="miter" stroke-linecap="square" />
<path d="M964.0 1275.0 L964.0 1340.0" fill="none" stroke="#111" stroke-width="3" stroke-dasharray="10 5"/>
<path d="M972.0 1275.0 L972.0 1340.0" fill="none" stroke="#111" stroke-width="3" stroke-dasharray="10 5"/>
<path d="M746 812 Q754 814 754.5 824 L754.5 863" fill="none" stroke="#111" stroke-width="2.6"/>
<path d="M747 857 L752 864" fill="none" stroke="#111" stroke-width="3"/>
<path d="M747 891 Q754 889 754 880 L754 874" fill="none" stroke="#111" stroke-width="2.6"/>
<path d="M748 926.7 L760 926.7 Q767 928 767 936 L767 990" fill="none" stroke="#111" stroke-width="2.6"/>
<path d="M746 994 Q752 996 752 1006 L752 1034" fill="none" stroke="#111" stroke-width="2.6"/>
<path d="M748 1254 L760 1254 L760 1238 M748 1289 L765 1289 L765 1270" fill="none" stroke="#111" stroke-width="2.6"/>
<path d="M748 1326 Q757 1325 757 1310" fill="none" stroke="#111" stroke-width="3.2"/>
<path d="M950 1251 L972 1251 L972 1275" fill="none" stroke="#111" stroke-width="2.6"/>
<circle cx="738.5" cy="707.5" r="5.4" fill="#fff" stroke="#111" stroke-width="3.0"/>
<path transform="translate(705.8,718.5) skewX(-15)" d="M0 0 L0 -22.5 L-3.8 -18.0" fill="none" stroke="#111" stroke-width="3.2" stroke-linecap="round" stroke-linejoin="round"/>
<text x="0" y="0" transform="translate(713.0,718.5) skewX(-6) scale(0.577,1)" font-size="32.1" class="t" stroke-width="1.0">0</text>
<circle cx="738.5" cy="743.8" r="5.4" fill="#fff" stroke="#111" stroke-width="3.0"/>
<path transform="translate(705.8,755.0) skewX(-15)" d="M0 0 L0 -22.5 L-3.8 -18.0" fill="none" stroke="#111" stroke-width="3.2" stroke-linecap="round" stroke-linejoin="round"/>
<text x="0" y="0" transform="translate(713.0,755.0) skewX(-6) scale(0.577,1)" font-size="32.1" class="t" stroke-width="1.0">6</text>
<circle cx="738.5" cy="780.0" r="5.4" fill="#fff" stroke="#111" stroke-width="3.0"/>
<text x="0" y="0" transform="translate(711.0,791.0) skewX(-6)" font-size="31.4" textLength="11.4" lengthAdjust="spacingAndGlyphs" class="t" stroke-width="1.0">4</text>
<circle cx="738.5" cy="816.2" r="9.4" fill="#fff" stroke="#111" stroke-width="3.4"/>
<circle cx="738.5" cy="816.2" r="3.6" fill="#fff" stroke="#111" stroke-width="2.5"/>
<text x="0" y="0" transform="translate(701.0,828.0) skewX(-6) scale(0.638,1)" font-size="31.4" class="t" stroke-width="1.0">А</text>
<text x="0" y="0" transform="translate(716.2,828.0) skewX(-6) scale(0.638,1)" font-size="31.4" class="t" stroke-width="1.0">2</text>
<circle cx="738.5" cy="852.5" r="9.4" fill="#fff" stroke="#111" stroke-width="3.4"/>
<circle cx="738.5" cy="852.5" r="3.6" fill="#fff" stroke="#111" stroke-width="2.5"/>
<text x="0" y="0" transform="translate(708.5,864.0) skewX(-6)" font-size="31.4" textLength="12.9" lengthAdjust="spacingAndGlyphs" class="t" stroke-width="1.0">3</text>
<circle cx="738.5" cy="888.8" r="9.4" fill="#fff" stroke="#111" stroke-width="3.4"/>
<circle cx="738.5" cy="888.8" r="3.6" fill="#fff" stroke="#111" stroke-width="2.5"/>
<text x="0" y="0" transform="translate(701.0,900.0) skewX(-6) scale(0.638,1)" font-size="31.4" class="t" stroke-width="1.0">А</text>
<text x="0" y="0" transform="translate(716.2,900.0) skewX(-6) scale(0.638,1)" font-size="31.4" class="t" stroke-width="1.0">2</text>
<circle cx="738.5" cy="925.0" r="9.4" fill="#fff" stroke="#111" stroke-width="3.4"/>
<circle cx="738.5" cy="925.0" r="3.6" fill="#fff" stroke="#111" stroke-width="2.5"/>
<path transform="translate(712.2,937.0) skewX(-15)" d="M0 0 L0 -22.0 L-3.7 -17.6" fill="none" stroke="#111" stroke-width="3.2" stroke-linecap="round" stroke-linejoin="round"/>
<circle cx="738.5" cy="961.2" r="5.4" fill="#fff" stroke="#111" stroke-width="3.0"/>
<path transform="translate(705.2,973.0) skewX(-15)" d="M0 0 L0 -22.0 L-3.7 -17.6" fill="none" stroke="#111" stroke-width="3.2" stroke-linecap="round" stroke-linejoin="round"/>
<text x="0" y="0" transform="translate(712.3,973.0) skewX(-6) scale(0.630,1)" font-size="31.4" class="t" stroke-width="1.0">4</text>
<circle cx="738.5" cy="997.5" r="9.4" fill="#fff" stroke="#111" stroke-width="3.4"/>
<circle cx="738.5" cy="997.5" r="3.6" fill="#fff" stroke="#111" stroke-width="2.5"/>
<path transform="translate(703.2,1010.0) skewX(-15)" d="M0 0 L0 -22.0 L-3.7 -17.6" fill="none" stroke="#111" stroke-width="3.2" stroke-linecap="round" stroke-linejoin="round"/>
<text x="0" y="0" transform="translate(710.5,1010.0) skewX(-6) scale(0.737,1)" font-size="31.4" class="t" stroke-width="1.0">5</text>
<circle cx="738.5" cy="1033.8" r="9.4" fill="#fff" stroke="#111" stroke-width="3.4"/>
<circle cx="738.5" cy="1033.8" r="3.6" fill="#fff" stroke="#111" stroke-width="2.5"/>
<circle cx="738.5" cy="1070.0" r="5.4" fill="#fff" stroke="#111" stroke-width="3.0"/>
<path transform="translate(706.6,1090.5) skewX(-15)" d="M0 0 L0 -21.5 L-3.7 -17.2" fill="none" stroke="#111" stroke-width="3.2" stroke-linecap="round" stroke-linejoin="round"/>
<path transform="translate(714.4,1090.5) skewX(-15)" d="M0 0 L0 -21.5 L-3.7 -17.2" fill="none" stroke="#111" stroke-width="3.2" stroke-linecap="round" stroke-linejoin="round"/>
<circle cx="738.5" cy="1106.2" r="5.4" fill="#fff" stroke="#111" stroke-width="3.0"/>
<path transform="translate(705.8,1119.0) skewX(-15)" d="M0 0 L0 -22.5 L-3.8 -18.0" fill="none" stroke="#111" stroke-width="3.2" stroke-linecap="round" stroke-linejoin="round"/>
<text x="0" y="0" transform="translate(711.5,1119.0) skewX(-6) scale(0.546,1)" font-size="32.1" class="t" stroke-width="1.0">9</text>
<circle cx="738.5" cy="1142.5" r="9.4" fill="#fff" stroke="#111" stroke-width="3.4"/>
<circle cx="738.5" cy="1142.5" r="3.6" fill="#fff" stroke="#111" stroke-width="2.5"/>
<text x="0" y="0" transform="translate(700.0,1154.5) skewX(-6) scale(0.588,1)" font-size="28.6" class="t" stroke-width="1.0">С</text>
<text x="0" y="0" transform="translate(713.8,1154.5) skewX(-6) scale(0.588,1)" font-size="28.6" class="t" stroke-width="1.0">2</text>
<circle cx="738.5" cy="1178.8" r="9.4" fill="#fff" stroke="#111" stroke-width="3.4"/>
<circle cx="738.5" cy="1178.8" r="3.6" fill="#fff" stroke="#111" stroke-width="2.5"/>
<text x="0" y="0" transform="translate(705.0,1190.0) skewX(-6)" font-size="27.1" textLength="10.7" lengthAdjust="spacingAndGlyphs" class="t" stroke-width="1.0">8</text>
<circle cx="738.5" cy="1215.0" r="9.4" fill="#fff" stroke="#111" stroke-width="3.4"/>
<circle cx="738.5" cy="1215.0" r="3.6" fill="#fff" stroke="#111" stroke-width="2.5"/>
<text x="0" y="0" transform="translate(714.0,1214.0) skewX(-6)" font-size="28.6" textLength="12.1" lengthAdjust="spacingAndGlyphs" class="t" stroke-width="1.0">2</text>
<circle cx="738.5" cy="1251.2" r="9.4" fill="#fff" stroke="#111" stroke-width="3.4"/>
<circle cx="738.5" cy="1251.2" r="3.6" fill="#fff" stroke="#111" stroke-width="2.5"/>
<text x="0" y="0" transform="translate(708.5,1263.0) skewX(-6)" font-size="31.4" textLength="12.4" lengthAdjust="spacingAndGlyphs" class="t" stroke-width="1.0">3</text>
<circle cx="738.5" cy="1287.5" r="9.4" fill="#fff" stroke="#111" stroke-width="3.4"/>
<circle cx="738.5" cy="1287.5" r="3.6" fill="#fff" stroke="#111" stroke-width="2.5"/>
<text x="0" y="0" transform="translate(707.0,1300.0) skewX(-6)" font-size="31.4" textLength="10.9" lengthAdjust="spacingAndGlyphs" class="t" stroke-width="1.0">8</text>
<circle cx="738.5" cy="1323.8" r="9.4" fill="#fff" stroke="#111" stroke-width="3.4"/>
<circle cx="738.5" cy="1323.8" r="3.6" fill="#fff" stroke="#111" stroke-width="2.5"/>
<path transform="translate(699.3,1336.0) skewX(-15)" d="M0 0 L0 -23.0 L-3.9 -18.4" fill="none" stroke="#111" stroke-width="3.2" stroke-linecap="round" stroke-linejoin="round"/>
<text x="0" y="0" transform="translate(706.8,1336.0) skewX(-6) scale(0.628,1)" font-size="32.9" class="t" stroke-width="1.0">5</text>
<text x="0" y="0" transform="translate(709.5,1063.0) skewX(-6)" font-size="30.0" textLength="10.5" lengthAdjust="spacingAndGlyphs" class="t" stroke-width="1.0">7</text>
<circle cx="945.0" cy="707.5" r="9.4" fill="#fff" stroke="#111" stroke-width="3.4"/>
<circle cx="945.0" cy="707.5" r="3.6" fill="#fff" stroke="#111" stroke-width="2.5"/>
<text x="0" y="0" transform="translate(892.5,715.0) skewX(-6) scale(0.760,1)" font-size="30.0" class="t" stroke-width="1.0">В</text>
<text x="0" y="0" transform="translate(909.8,715.0) skewX(-6) scale(0.760,1)" font-size="30.0" class="t" stroke-width="1.0">2</text>
<circle cx="945.0" cy="743.8" r="9.4" fill="#fff" stroke="#111" stroke-width="3.4"/>
<circle cx="945.0" cy="743.8" r="3.6" fill="#fff" stroke="#111" stroke-width="2.5"/>
<text x="0" y="0" transform="translate(896.0,752.5) skewX(-6) scale(0.595,1)" font-size="32.1" class="t" stroke-width="1.0">С</text>
<text x="0" y="0" transform="translate(911.7,752.5) skewX(-6) scale(0.595,1)" font-size="32.1" class="t" stroke-width="1.0">2</text>
<circle cx="945.0" cy="780.0" r="5.4" fill="#fff" stroke="#111" stroke-width="3.0"/>
<text x="0" y="0" transform="translate(905.0,791.0) skewX(-6) scale(0.790,1)" font-size="31.4" class="t" stroke-width="1.0">2</text>
<path transform="translate(922.6,791.0) skewX(-15)" d="M0 0 L0 -22.0 L-3.7 -17.6" fill="none" stroke="#111" stroke-width="3.2" stroke-linecap="round" stroke-linejoin="round"/>
<circle cx="945.0" cy="816.2" r="5.4" fill="#fff" stroke="#111" stroke-width="3.0"/>
<text x="0" y="0" transform="translate(913.5,821.0) skewX(-6)" font-size="31.4" textLength="13.9" lengthAdjust="spacingAndGlyphs" class="t" stroke-width="1.0">9</text>
<circle cx="945.0" cy="852.5" r="5.4" fill="#fff" stroke="#111" stroke-width="3.0"/>
<text x="0" y="0" transform="translate(912.5,861.0) skewX(-6)" font-size="32.9" textLength="14.7" lengthAdjust="spacingAndGlyphs" class="t" stroke-width="1.0">5</text>
<circle cx="945.0" cy="888.8" r="5.4" fill="#fff" stroke="#111" stroke-width="3.0"/>
<path transform="translate(912.2,902.5) skewX(-15)" d="M0 0 L0 -22.0 L-3.7 -17.6" fill="none" stroke="#111" stroke-width="3.2" stroke-linecap="round" stroke-linejoin="round"/>
<text x="0" y="0" transform="translate(917.8,902.5) skewX(-6) scale(0.545,1)" font-size="31.4" class="t" stroke-width="1.0">3</text>
<circle cx="945.0" cy="925.0" r="9.4" fill="#fff" stroke="#111" stroke-width="3.4"/>
<circle cx="945.0" cy="925.0" r="3.6" fill="#fff" stroke="#111" stroke-width="2.5"/>
<text x="0" y="0" transform="translate(910.5,936.0) skewX(-6)" font-size="34.3" textLength="12.1" lengthAdjust="spacingAndGlyphs" class="t" stroke-width="1.0">2</text>
<circle cx="945.0" cy="961.2" r="9.4" fill="#fff" stroke="#111" stroke-width="3.4"/>
<circle cx="945.0" cy="961.2" r="3.6" fill="#fff" stroke="#111" stroke-width="2.5"/>
<path transform="translate(910.5,972.5) skewX(-15)" d="M0 0 L0 -20.5 L-3.5 -16.4" fill="none" stroke="#111" stroke-width="3.2" stroke-linecap="round" stroke-linejoin="round"/>
<text x="0" y="0" transform="translate(917.2,972.5) skewX(-6) scale(0.634,1)" font-size="29.3" class="t" stroke-width="1.0">7</text>
<circle cx="945.0" cy="997.5" r="9.4" fill="#fff" stroke="#111" stroke-width="3.4"/>
<circle cx="945.0" cy="997.5" r="3.6" fill="#fff" stroke="#111" stroke-width="2.5"/>
<text x="0" y="0" transform="translate(905.5,1012.0) skewX(-6) scale(0.549,1)" font-size="35.7" class="t" stroke-width="1.0">В</text>
<text x="0" y="0" transform="translate(918.6,1012.0) skewX(-6) scale(0.549,1)" font-size="35.7" class="t" stroke-width="1.0">2</text>
<circle cx="945.0" cy="1033.8" r="5.4" fill="#fff" stroke="#111" stroke-width="3.0"/>
<text x="0" y="0" transform="translate(915.0,1045.0) skewX(-6)" font-size="37.1" textLength="9.9" lengthAdjust="spacingAndGlyphs" class="t" stroke-width="1.0">6</text>
<circle cx="945.0" cy="1070.0" r="5.4" fill="#fff" stroke="#111" stroke-width="3.0"/>
<text x="0" y="0" transform="translate(908.5,1081.0) skewX(-6) scale(0.568,1)" font-size="31.4" class="t" stroke-width="1.0">2</text>
<text x="0" y="0" transform="translate(919.9,1081.0) skewX(-6) scale(0.568,1)" font-size="31.4" class="t" stroke-width="1.0">0</text>
<circle cx="945.0" cy="1106.2" r="9.4" fill="#fff" stroke="#111" stroke-width="3.4"/>
<circle cx="945.0" cy="1106.2" r="3.6" fill="#fff" stroke="#111" stroke-width="2.5"/>
<path transform="translate(906.4,1119.0) skewX(-15)" d="M0 0 L0 -24.0 L-4.1 -19.2" fill="none" stroke="#111" stroke-width="3.2" stroke-linecap="round" stroke-linejoin="round"/>
<text x="0" y="0" transform="translate(914.3,1119.0) skewX(-6) scale(0.675,1)" font-size="34.3" class="t" stroke-width="1.0">2</text>
<circle cx="945.0" cy="1142.5" r="9.4" fill="#fff" stroke="#111" stroke-width="3.4"/>
<circle cx="945.0" cy="1142.5" r="3.6" fill="#fff" stroke="#111" stroke-width="2.5"/>
<text x="0" y="0" transform="translate(910.5,1152.5) skewX(-6) scale(0.577,1)" font-size="30.7" class="t" stroke-width="1.0">2</text>
<path transform="translate(923.8,1152.5) skewX(-15)" d="M0 0 L0 -21.5 L-3.7 -17.2" fill="none" stroke="#111" stroke-width="3.2" stroke-linecap="round" stroke-linejoin="round"/>
<circle cx="945.0" cy="1178.8" r="9.4" fill="#fff" stroke="#111" stroke-width="3.4"/>
<circle cx="945.0" cy="1178.8" r="3.6" fill="#fff" stroke="#111" stroke-width="2.5"/>
<path transform="translate(911.1,1190.0) skewX(-15)" d="M0 0 L0 -21.0 L-3.6 -16.8" fill="none" stroke="#111" stroke-width="3.2" stroke-linecap="round" stroke-linejoin="round"/>
<text x="0" y="0" transform="translate(918.0,1190.0) skewX(-6) scale(0.689,1)" font-size="30.0" class="t" stroke-width="1.0">7</text>
<circle cx="945.0" cy="1215.0" r="5.4" fill="#fff" stroke="#111" stroke-width="3.0"/>
<path transform="translate(913.0,1228.0) skewX(-15)" d="M0 0 L0 -25.0 L-4.2 -20.0" fill="none" stroke="#111" stroke-width="3.2" stroke-linecap="round" stroke-linejoin="round"/>
<text x="0" y="0" transform="translate(918.9,1228.0) skewX(-6) scale(0.511,1)" font-size="35.7" class="t" stroke-width="1.0">8</text>
<circle cx="945.0" cy="1251.2" r="9.4" fill="#fff" stroke="#111" stroke-width="3.4"/>
<circle cx="945.0" cy="1251.2" r="3.6" fill="#fff" stroke="#111" stroke-width="2.5"/>
<text x="0" y="0" transform="translate(916.0,1262.0) skewX(-6)" font-size="32.9" textLength="12.2" lengthAdjust="spacingAndGlyphs" class="t" stroke-width="1.0">7</text>
<circle cx="945.0" cy="1287.5" r="9.4" fill="#fff" stroke="#111" stroke-width="3.4"/>
<circle cx="945.0" cy="1287.5" r="3.6" fill="#fff" stroke="#111" stroke-width="2.5"/>
<path transform="translate(914.3,1299.0) skewX(-15)" d="M0 0 L0 -23.0 L-3.9 -18.4" fill="none" stroke="#111" stroke-width="3.2" stroke-linecap="round" stroke-linejoin="round"/>
<circle cx="945.0" cy="1323.8" r="9.4" fill="#fff" stroke="#111" stroke-width="3.4"/>
<circle cx="945.0" cy="1323.8" r="3.6" fill="#fff" stroke="#111" stroke-width="2.5"/>
<path transform="translate(905.8,1332.0) skewX(-15)" d="M0 0 L0 -22.5 L-3.8 -18.0" fill="none" stroke="#111" stroke-width="3.2" stroke-linecap="round" stroke-linejoin="round"/>
<text x="0" y="0" transform="translate(913.2,1332.0) skewX(-6) scale(0.733,1)" font-size="32.1" class="t" stroke-width="1.0">2</text>
<path d="M778.8 716.0 L778.8 722.5 L984.8 722.5 L984.8 716.0" fill="none" stroke="#111" stroke-width="3.0" stroke-linejoin="miter" stroke-linecap="square" />
<path d="M778.8 752.5 L778.8 758.8 L984.8 758.8 L984.8 751.0" fill="none" stroke="#111" stroke-width="3.0" stroke-linejoin="miter" stroke-linecap="square" />
<path d="M816.2 822.5 L816.2 826.2 L1022.0 826.2 L1022.0 819.4" fill="none" stroke="#111" stroke-width="3.0" stroke-linejoin="miter" stroke-linecap="square" />
<path d="M778.8 845.0 L778.8 835.0 L984.8 835.0 L984.8 844.7" fill="none" stroke="#111" stroke-width="3.0" stroke-linejoin="miter" stroke-linecap="square" />
<path d="M860.0 858.8 L860.0 865.5 L1061.4 865.5 L1061.4 858.4" fill="none" stroke="#111" stroke-width="3.0" stroke-linejoin="miter" stroke-linecap="square" />
<path d="M898.0 886.0 L898.0 874.5 L1101.3 874.5 L1101.3 883.7" fill="none" stroke="#111" stroke-width="3.0" stroke-linejoin="miter" stroke-linecap="square" />
<path d="M860.0 955.0 L860.0 942.8 L1061.4 942.8 L1061.4 956.8" fill="none" stroke="#111" stroke-width="3.0" stroke-linejoin="miter" stroke-linecap="square" />
<path d="M778.8 970.0 L778.8 981.2 L984.8 981.2 L984.8 970.4" fill="none" stroke="#111" stroke-width="3.0" stroke-linejoin="miter" stroke-linecap="square" />
<path d="M898.0 1043.8 L898.0 1049.5 L1101.3 1049.5 L1101.3 1037.0" fill="none" stroke="#111" stroke-width="3.0" stroke-linejoin="miter" stroke-linecap="square" />
<path d="M898.0 1062.5 L898.0 1055.8 L1101.3 1055.8 L1101.3 1059.6" fill="none" stroke="#111" stroke-width="3.0" stroke-linejoin="miter" stroke-linecap="square" />
<path d="M898.0 1103.8 L898.0 1084.8 L1101.3 1084.8 L1101.3 1102.3" fill="none" stroke="#111" stroke-width="3.0" stroke-linejoin="miter" stroke-linecap="square" />
<path d="M898.0 1141.2 L898.0 1125.6 L1101.3 1125.6 L1101.3 1140.0" fill="none" stroke="#111" stroke-width="3.0" stroke-linejoin="miter" stroke-linecap="square" />
<path d="M816.2 1187.5 L816.2 1196.8 L1022.0 1196.8 L1022.0 1184.3" fill="none" stroke="#111" stroke-width="3.0" stroke-linejoin="miter" stroke-linecap="square" />
<path d="M816.2 1225.0 L816.2 1230.5 L1022.0 1230.5 L1022.0 1222.3" fill="none" stroke="#111" stroke-width="3.0" stroke-linejoin="miter" stroke-linecap="square" />
<path d="M816.2 1260.0 L816.2 1268.7 L1061.4 1268.7 L1061.4 1258.0" fill="none" stroke="#111" stroke-width="3.0" stroke-linejoin="miter" stroke-linecap="square" />
<path d="M816.2 1331.2 L816.2 1338.7 L1022.0 1338.7 L1022.0 1329.0" fill="none" stroke="#111" stroke-width="3.0" stroke-linejoin="miter" stroke-linecap="square" />
<rect x="771.5" y="701.0" width="14.5" height="15.0" rx="2" fill="#111"/>
<rect x="771.5" y="737.5" width="14.5" height="15.0" rx="2" fill="#111"/>
<rect x="771.5" y="777.5" width="14.5" height="45.0" rx="2" fill="#111"/>
<rect x="809.0" y="807.0" width="14.5" height="15.5" rx="2" fill="#111"/>
<rect x="852.8" y="811.0" width="14.5" height="47.8" rx="2" fill="#111"/>
<rect x="771.5" y="845.0" width="14.5" height="15.0" rx="2" fill="#111"/>
<rect x="890.8" y="886.0" width="14.5" height="43.0" rx="2" fill="#111"/>
<rect x="809.0" y="920.0" width="14.5" height="47.5" rx="2" fill="#111"/>
<rect x="771.5" y="955.0" width="14.5" height="15.0" rx="2" fill="#111"/>
<rect x="852.8" y="955.0" width="14.5" height="13.8" rx="2" fill="#111"/>
<rect x="890.8" y="957.5" width="14.5" height="45.0" rx="2" fill="#111"/>
<rect x="890.8" y="1030.0" width="14.5" height="13.8" rx="2" fill="#111"/>
<rect x="890.8" y="1062.5" width="14.5" height="15.0" rx="2" fill="#111"/>
<rect x="771.5" y="1068.8" width="14.5" height="43.8" rx="2" fill="#111"/>
<rect x="809.0" y="1067.5" width="14.5" height="82.5" rx="2" fill="#111"/>
<rect x="852.8" y="1067.5" width="14.5" height="82.5" rx="2" fill="#111"/>
<rect x="890.8" y="1103.8" width="14.5" height="12.5" rx="2" fill="#111"/>
<rect x="890.8" y="1141.2" width="14.5" height="38.8" rx="2" fill="#111"/>
<rect x="809.0" y="1173.8" width="14.5" height="13.8" rx="2" fill="#111"/>
<rect x="809.0" y="1212.5" width="14.5" height="12.5" rx="2" fill="#111"/>
<rect x="890.8" y="1211.0" width="14.5" height="46.5" rx="2" fill="#111"/>
<rect x="809.0" y="1246.2" width="14.5" height="13.8" rx="2" fill="#111"/>
<rect x="771.5" y="1285.0" width="14.5" height="47.5" rx="2" fill="#111"/>
<rect x="852.8" y="1282.5" width="14.5" height="48.8" rx="2" fill="#111"/>
<rect x="809.0" y="1318.8" width="14.5" height="12.5" rx="2" fill="#111"/>
<rect x="977.5" y="700.5" width="14.5" height="15.5" rx="2" fill="#111"/>
<rect x="977.5" y="735.5" width="14.5" height="15.5" rx="2" fill="#111"/>
<rect x="977.5" y="777.5" width="14.5" height="42.9" rx="2" fill="#111"/>
<rect x="1014.8" y="776.5" width="14.5" height="42.9" rx="2" fill="#111"/>
<rect x="1054.2" y="777.5" width="14.5" height="44.5" rx="2" fill="#111"/>
<rect x="977.5" y="844.7" width="14.5" height="13.7" rx="2" fill="#111"/>
<rect x="1014.8" y="844.7" width="14.5" height="47.8" rx="2" fill="#111"/>
<rect x="1054.2" y="841.8" width="14.5" height="16.6" rx="2" fill="#111"/>
<rect x="1094.0" y="883.7" width="14.5" height="14.6" rx="2" fill="#111"/>
<rect x="977.5" y="885.7" width="14.5" height="42.8" rx="2" fill="#111"/>
<rect x="1054.2" y="884.7" width="14.5" height="45.8" rx="2" fill="#111"/>
<rect x="1054.2" y="956.8" width="14.5" height="45.8" rx="2" fill="#111"/>
<rect x="977.5" y="954.9" width="14.5" height="15.5" rx="2" fill="#111"/>
<rect x="1014.8" y="991.9" width="14.5" height="81.9" rx="2" fill="#111"/>
<rect x="1094.0" y="989.5" width="14.5" height="47.5" rx="2" fill="#111"/>
<rect x="977.5" y="1032.0" width="14.5" height="43.0" rx="2" fill="#111"/>
<rect x="1054.2" y="1032.0" width="14.5" height="43.0" rx="2" fill="#111"/>
<rect x="1094.0" y="1059.6" width="14.5" height="14.2" rx="2" fill="#111"/>
<rect x="1094.0" y="1102.3" width="14.5" height="14.3" rx="2" fill="#111"/>
<rect x="1094.0" y="1140.0" width="14.5" height="14.6" rx="2" fill="#111"/>
<rect x="1094.0" y="1173.6" width="14.5" height="41.4" rx="2" fill="#111"/>
<rect x="1014.8" y="1171.2" width="14.5" height="13.1" rx="2" fill="#111"/>
<rect x="977.5" y="1210.4" width="14.5" height="47.6" rx="2" fill="#111"/>
<rect x="1014.8" y="1209.2" width="14.5" height="13.1" rx="2" fill="#111"/>
<rect x="1054.2" y="1209.2" width="14.5" height="48.8" rx="2" fill="#111"/>
<rect x="1014.8" y="1243.7" width="14.5" height="14.3" rx="2" fill="#111"/>
<rect x="977.5" y="1281.7" width="14.5" height="48.7" rx="2" fill="#111"/>
<rect x="1054.2" y="1280.5" width="14.5" height="49.9" rx="2" fill="#111"/>
<rect x="1014.8" y="1315.0" width="14.5" height="14.0" rx="2" fill="#111"/>
<text class="cap" transform="translate(205,1592.5) scale(0.93,1)" font-size="35" textLength="67.2" lengthAdjust="spacing">Рис.</text>
<text class="cap" transform="translate(300,1592.5) scale(0.8,1)" font-size="35" textLength="46.9" lengthAdjust="spacing">14.</text>
<text class="cap" transform="translate(367.5,1592.5) scale(0.93,1)" font-size="35" textLength="102.2" lengthAdjust="spacing">Схема</text>
<text class="cap" transform="translate(492,1592.5) scale(0.93,1)" font-size="35" textLength="237.6" lengthAdjust="spacing">электрическая</text>
<text class="cap" transform="translate(743,1592.5) scale(0.93,1)" font-size="35" textLength="260.2" lengthAdjust="spacing">принципиальная</text>
</svg>
</body></html>
